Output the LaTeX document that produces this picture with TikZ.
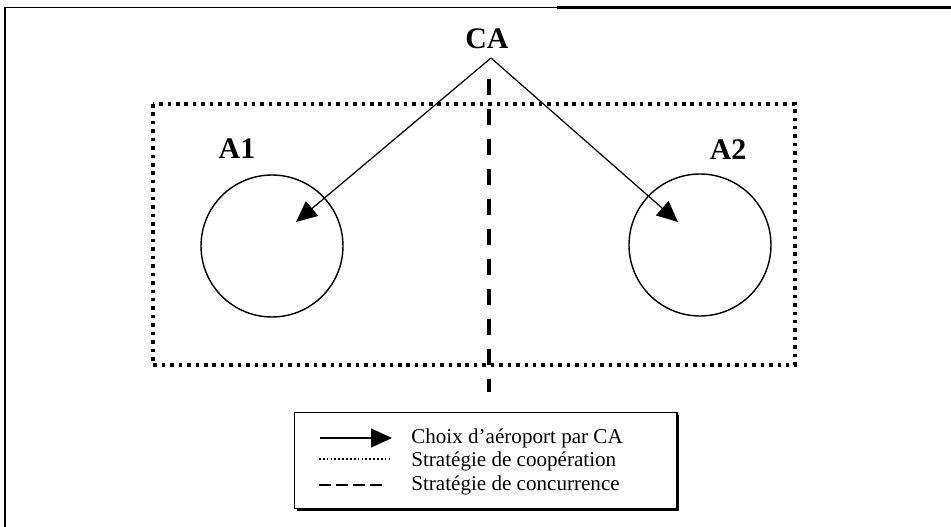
\documentclass[tikz,border=0pt]{standalone}
\usepackage{fontspec}
\setmainfont{Liberation Serif}
\usetikzlibrary{arrows.meta}
\tikzset{
    pointe/.style={-{Triangle[length=0.42cm,width=0.38cm]}},
    coop/.style={line width=2pt,dash pattern=on 2pt off 2.8pt},
    concur/.style={line width=2.2pt,dash pattern=on 0.32cm off 0.28cm},
    aero/.style={draw,circle,line width=0.8pt,minimum size=2.84cm,inner sep=0pt},
    titre/.style={font=\bfseries\fontsize{17}{20}\selectfont,inner sep=0pt},
    leg/.style={anchor=west,inner sep=0pt,font=\fontsize{12}{14}\selectfont}
}
\begin{document}
\begin{tikzpicture}[x=0.02cm,y=-0.02cm]
    \useasboundingbox (0,0) rectangle (951,527);
    % cadre
    \draw[line width=0.8pt] (5,527) -- (5,7.5) -- (951,7.5);
    \draw[line width=1.4pt] (557,7.5) -- (951,7.5);
    % zones
    \draw[coop] (153,104) rectangle (795,365);
    \draw[concur] (489,79) -- (489,392);
    \node[titre] (ca) at (487,39) {CA};
    \coordinate (haut) at (491,58);
    \node[titre] (a1) at (237,149) {A1};
    \node[titre] (a2) at (728,150) {A2};
    \node[aero] (c1) at (272,246) {};
    \node[aero] (c2) at (700,245) {};
    \coordinate (p1) at (296,222);
    \coordinate (p2) at (678,222);
    \draw[pointe,line width=0.7pt] (haut) -- (p1);
    \draw[pointe,line width=0.7pt] (haut) -- (p2);
    % legende
    \fill (296.5,414.5) rectangle (679,510.5);
    \draw[fill=white,line width=0.8pt] (294.5,412.5) rectangle (677,508.5);
    \node[leg] (l1) at (411,438) {Choix d’aéroport par CA};
    \node[leg] (l2) at (411,461) {Stratégie de coopération};
    \node[leg] (l3) at (411,485) {Stratégie de concurrence};
    \draw[pointe,line width=0.7pt] (320,438) -- (392,438);
    \draw[line width=1pt,dash pattern=on 1pt off 1.2pt] (319,459) -- (390,459);
    \draw[line width=1.7pt,dash pattern=on 0.24cm off 0.1cm] (319,485) -- (383,485);
\end{tikzpicture}
\end{document}
